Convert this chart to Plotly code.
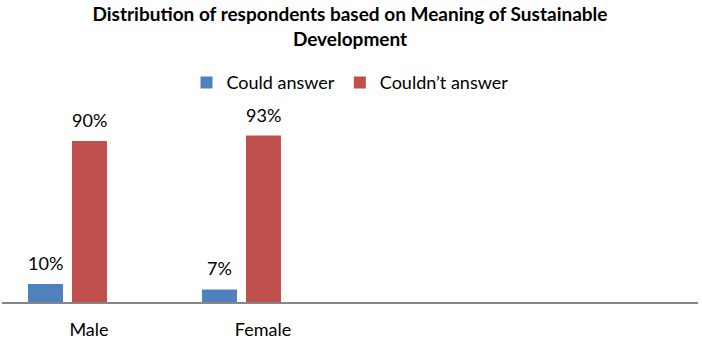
import plotly.graph_objects as go

# Survey results: share of respondents who could / couldn't explain
# the meaning of sustainable development, by gender.
categories = ["Male", "Female"]
could_answer = [10, 7]
couldnt_answer = [90, 93]
series_names = ["Could answer", "Couldn\u2019t answer"]
n_slots = 4  # category slots on the axis (two are left empty)

BLUE = "#4F81BD"
RED = "#C0504D"
AXIS_GREY = "#868686"
FONT = "Lato, 'Open Sans', sans-serif"

# bar geometry in category units
bar_width = 0.201
offsets = [-0.3506, -0.0977]

x_pos = list(range(len(categories)))

fig = go.Figure()
for name, vals, color, off in zip(series_names, [could_answer, couldnt_answer],
                                  [BLUE, RED], offsets):
    fig.add_trace(go.Bar(
        x=x_pos, y=vals, name=name,
        marker=dict(color=color, line=dict(width=0)),
        width=bar_width, offset=off,
        hoverinfo="skip",
    ))
    # value labels above each bar
    for xi, v in zip(x_pos, vals):
        fig.add_annotation(
            x=xi + off + bar_width / 2, y=v, text=f"{v}%",
            showarrow=False, yanchor="bottom", yshift=8,
            font=dict(family=FONT, size=18, color="#000000"),
        )

fig.update_layout(
    width=702, height=339,
    margin=dict(l=2, r=4, t=123, b=37, autoexpand=False),
    paper_bgcolor="white", plot_bgcolor="white",
    barmode="overlay",
    title=dict(
        text="Distribution of respondents based on Meaning of Sustainable<br>Development",
        x=0.5, xanchor="center", xref="paper",
        y=1 - 21 / 339, yanchor="middle", yref="container",
        font=dict(family=FONT, size=19, color="#000000", weight="bold"),
    ),
    legend=dict(
        orientation="h", x=0.5, xanchor="center",
        y=1.225, yanchor="middle",
        font=dict(family=FONT, size=18, color="#000000"),
        itemwidth=30, traceorder="normal",
    ),
    showlegend=True,
    xaxis=dict(
        range=[-0.5, n_slots - 0.5],
        tickvals=x_pos, ticktext=categories,
        showline=True, linecolor=AXIS_GREY, linewidth=2,
        showgrid=False, zeroline=False, ticks="",
        ticklabelstandoff=10, automargin=False,
        tickfont=dict(family=FONT, size=18, color="#000000"),
        fixedrange=True,
    ),
    yaxis=dict(
        range=[0, 100], visible=False, showgrid=False, zeroline=False,
        fixedrange=True, automargin=False,
    ),
)

fig.write_html("out.html")
